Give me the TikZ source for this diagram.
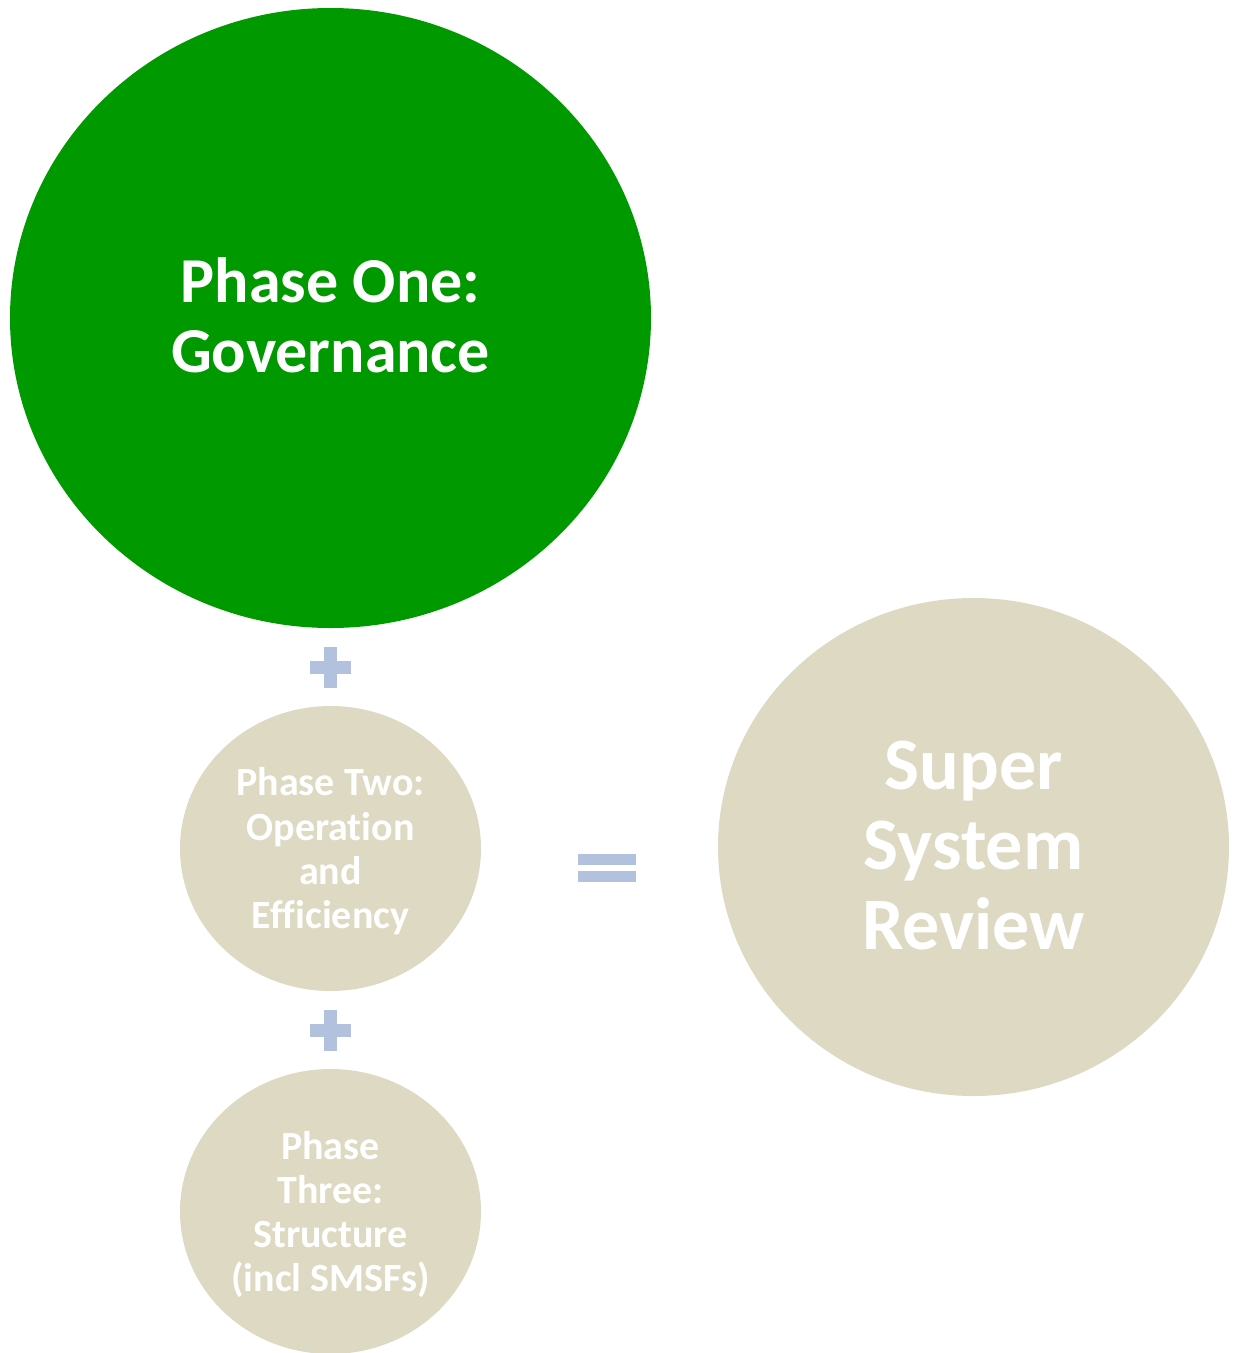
\documentclass[tikz,border=0pt]{standalone}
\usepackage{fontspec}
\setmainfont{Carlito}[Ligatures=NoCommon]
\usetikzlibrary{shapes.geometric}

\definecolor{phasegreen}{HTML}{009900}
\definecolor{phasetan}{HTML}{DDD9C3}
\definecolor{opblue}{HTML}{B2C1DD}

\tikzset{
  disc/.style={ellipse, inner sep=0pt},
  bigphase/.style={disc, fill=phasegreen, minimum width=641pt, minimum height=620pt},
  smallphase/.style={disc, fill=phasetan, minimum width=301pt, minimum height=285pt},
  result/.style={disc, fill=phasetan, minimum width=511pt, minimum height=498pt},
  caption/.style={inner sep=0pt, text=white, align=center},
  bigtext/.style={caption, font=\bfseries\fontsize{64}{70}\selectfont},
  smalltext/.style={caption, font=\bfseries\fontsize{40}{44.3}\selectfont},
  resulttext/.style={caption, font=\bfseries\fontsize{74}{80}\selectfont},
  opsign/.style={fill=opblue}
}

\begin{document}
\begin{tikzpicture}[x=1pt, y=-1pt]
  \useasboundingbox (0,0) rectangle (1240,1353);

  % the three phases, stacked on the left
  \node[bigphase]   (one)    at (330.5,318)    {};
  \node[smallphase] (two)    at (330.5,848.5)  {};
  \node[smallphase] (three)  at (330.5,1211.5) {};

  % the outcome on the right
  \node[result]     (review) at (973.5,847)    {};

  % captions
  \node[bigtext]    (onetext)    at ([yshift=3pt]one.center)    {Phase One:\\Governance};
  \node[smalltext]  (twotext)    at ([yshift=-3pt]two.center)   {Phase Two:\\Operation\\and\\Efficiency};
  \node[smalltext]  (threetext)  at ([yshift=-3pt]three.center) {Phase\\Three:\\Structure\\(incl SMSFs)};
  \node[resulttext] (reviewtext) at ([yshift=2pt]review.center) {Super\\System\\Review};

  % plus signs between the phases
  \coordinate (plusA) at (330.5,667.5);
  \coordinate (plusB) at (330.5,1030);
  \foreach \p in {plusA, plusB} {
    \fill[opsign] ([shift={(-20.5,-6.5)}]\p) rectangle ([shift={(20.5,6.5)}]\p);
    \fill[opsign] ([shift={(-6.5,-20.5)}]\p) rectangle ([shift={(6.5,20.5)}]\p);
  }

  % equals sign in front of the outcome
  \coordinate (eq) at (607,868);
  \fill[opsign] ([shift={(-29,-14)}]eq) rectangle ([shift={(29,-3)}]eq);
  \fill[opsign] ([shift={(-29,3)}]eq) rectangle ([shift={(29,14)}]eq);
\end{tikzpicture}
\end{document}
